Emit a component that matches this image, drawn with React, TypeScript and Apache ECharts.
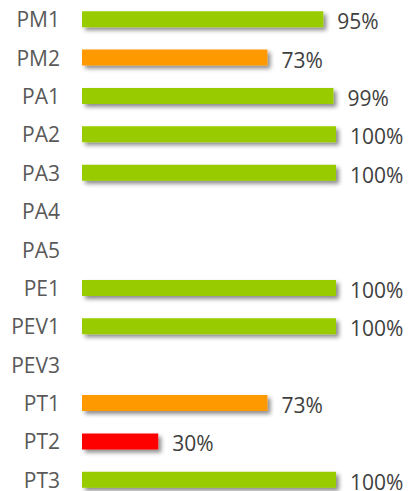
import React, { useEffect, useRef } from "react";
import * as echarts from "echarts";

const categories = ["PM1", "PM2", "PA1", "PA2", "PA3", "PA4", "PA5", "PE1", "PEV1", "PEV3", "PT1", "PT2", "PT3"];
const values: (number | null)[] = [95, 73, 99, 100, 100, null, null, 100, 100, null, 73, 30, 100];
const colors = ["#99CC00", "#FF9900", "#99CC00", "#99CC00", "#99CC00", "#99CC00", "#99CC00", "#99CC00", "#99CC00", "#99CC00", "#FF9900", "#FF0000", "#99CC00"];

export default function App() {
  const ref = useRef<HTMLDivElement>(null);
  useEffect(() => {
    const chart = echarts.init(ref.current!, undefined, { renderer: "svg" });
    chart.setOption({
      animation: false,
      grid: { left: 82, right: 75, top: 0, height: 499 },
      xAxis: { type: "value", min: 0, max: 100, show: false },
      yAxis: {
        type: "category",
        data: categories,
        inverse: true,
        axisLine: { show: false },
        axisTick: { show: false },
        splitLine: { show: false },
        axisLabel: { margin: 22, color: "#595959", fontSize: 21, lineHeight: 16, fontFamily: "Open Sans" },
      },
      series: [
        {
          type: "bar",
          barWidth: 16,
          data: values.map((v, i) => ({
            value: v,
            itemStyle: {
              color: colors[i],
              shadowColor: "rgba(0,0,0,0.45)",
              shadowBlur: 4,
              shadowOffsetX: 3,
              shadowOffsetY: 3,
            },
          })),
          label: {
            show: true,
            position: "right",
            distance: 14,
            offset: [0, 2],
            color: "#404040",
            fontSize: 21,
            lineHeight: 16,
            fontFamily: "Open Sans",
            formatter: (p: any) => (p.value == null ? "" : p.value + "%"),
          },
        },
      ],
    });
    return () => chart.dispose();
  }, []);
  return (
    <div style={{ position: "absolute", left: 0, top: 0, width: 411, height: 491, overflow: "hidden" }}>
      <div ref={ref} style={{ width: 411, height: 500 }} />
    </div>
  );
}
